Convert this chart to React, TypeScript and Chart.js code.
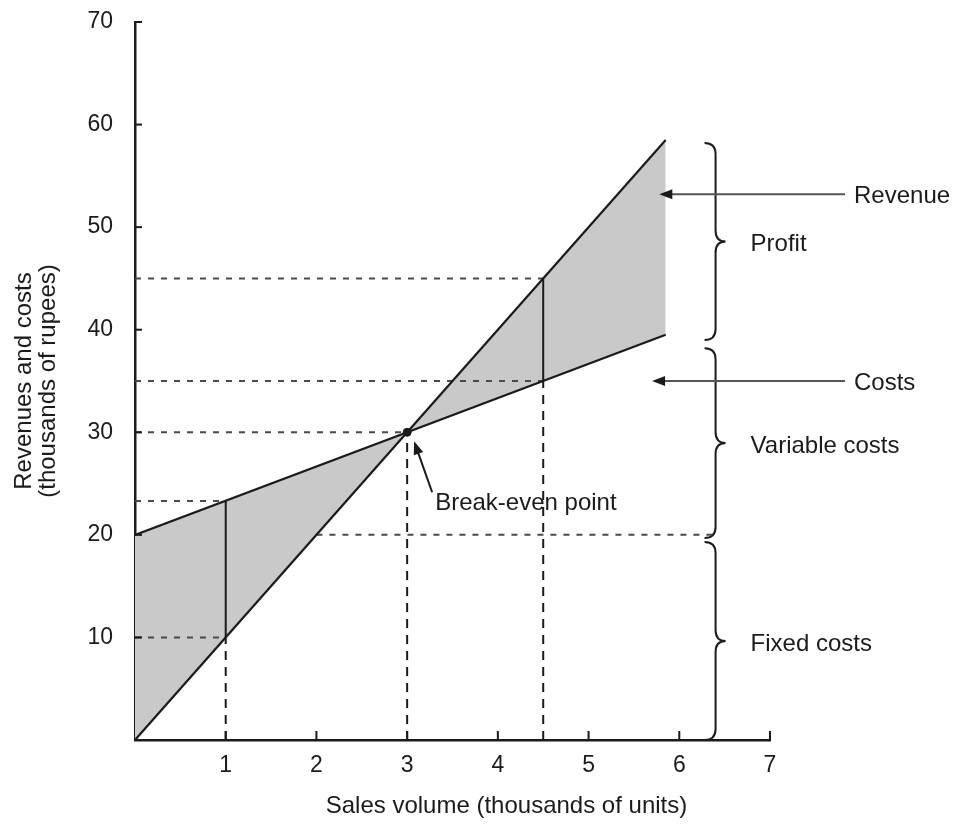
import React, { useEffect, useRef } from "react";
import { Chart, registerables } from "chart.js";

Chart.register(...registerables);

// ---- data ----
const salesVolume = [0, 5.85];
const revenue = [0, 58.5];
const costs = [20, 39.5];
const xTickValues = [1, 2, 3, 4, 5, 6, 7];
const yTickValues = [10, 20, 30, 40, 50, 60, 70];
const breakEven = [3, 30];

const guideLevels = [45, 35, 30, 23.3, 10, 20];
const guideFrom = [0, 0, 0, 0, 0, 2];
const guideTo = [4.5, 4.5, 3, 1, 1, 6.4];

const dropX = [1, 3, 4.5];
const dropTop = [10, 30, 35];

const markerX = [1, 4.5];
const markerLow = [10, 35];
const markerHigh = [23.3, 45];

const braceLabels = ["Profit", "Variable costs", "Fixed costs"];
const braceTop = [58.2, 38.2, 19.3];
const braceBottom = [39.0, 19.7, 0];
const braceAt = 6.4;

const pointerLabels = ["Revenue", "Costs"];
const pointerLevel = [53.2, 35];
const pointerTipX = [5.78, 5.7];

const breakEvenLabel = "Break-even point";
const xTitle = "Sales volume (thousands of units)";
const yTitle = ["Revenues and costs", "(thousands of rupees)"];

// ---- styles ----
const FONT = "'Liberation Sans', Arial, Helvetica, sans-serif";
const FS = 24;
const TICK_FS = 23;
const INK = "#1b1b1b";
const SHADE = "#c9c9c9";
const DASH = "#4a4a4a";

function drawArrow(ctx: CanvasRenderingContext2D, x0: number, y0: number, x1: number, y1: number, color: string) {
  const ang = Math.atan2(y1 - y0, x1 - x0);
  const len = 13;
  const half = 5;
  ctx.save();
  ctx.strokeStyle = color;
  ctx.fillStyle = INK;
  ctx.lineWidth = 2;
  ctx.beginPath();
  ctx.moveTo(x0, y0);
  ctx.lineTo(x1 - Math.cos(ang) * len * 0.8, y1 - Math.sin(ang) * len * 0.8);
  ctx.stroke();
  ctx.beginPath();
  ctx.moveTo(x1, y1);
  ctx.lineTo(x1 - Math.cos(ang) * len - Math.sin(ang) * half, y1 - Math.sin(ang) * len + Math.cos(ang) * half);
  ctx.lineTo(x1 - Math.cos(ang) * len + Math.sin(ang) * half, y1 - Math.sin(ang) * len - Math.cos(ang) * half);
  ctx.closePath();
  ctx.fill();
  ctx.restore();
}

function drawBrace(ctx: CanvasRenderingContext2D, x: number, yTop: number, yBottom: number) {
  const w = 11;
  const tip = 10;
  const mid = (yTop + yBottom) / 2;
  ctx.beginPath();
  ctx.moveTo(x - w, yTop);
  ctx.quadraticCurveTo(x, yTop, x, yTop + w);
  ctx.lineTo(x, mid - w);
  ctx.quadraticCurveTo(x, mid, x + tip, mid);
  ctx.quadraticCurveTo(x, mid, x, mid + w);
  ctx.lineTo(x, yBottom - w);
  ctx.quadraticCurveTo(x, yBottom, x - w, yBottom);
  ctx.stroke();
}

const annotations = {
  id: "breakEvenAnnotations",
  afterDraw(chart: any) {
    const ctx: CanvasRenderingContext2D = chart.ctx;
    const xs = chart.scales.x;
    const ys = chart.scales.y;
    const area = chart.chartArea;
    const px = (v: number) => xs.getPixelForValue(v);
    const py = (v: number) => ys.getPixelForValue(v);

    ctx.save();
    // inward tick marks
    ctx.strokeStyle = INK;
    ctx.lineWidth = 2;
    yTickValues.forEach((v) => {
      ctx.beginPath();
      ctx.moveTo(area.left, py(v));
      ctx.lineTo(area.left + 7, py(v));
      ctx.stroke();
    });
    xTickValues.forEach((v) => {
      ctx.beginPath();
      ctx.moveTo(px(v), area.bottom);
      ctx.lineTo(px(v), area.bottom - 9);
      ctx.stroke();
    });

    // braces + labels
    ctx.lineWidth = 2;
    ctx.strokeStyle = INK;
    ctx.fillStyle = INK;
    ctx.font = `${FS}px ${FONT}`;
    ctx.textBaseline = "middle";
    ctx.textAlign = "left";
    braceLabels.forEach((label, i) => {
      const yt = py(braceTop[i]);
      const yb = py(braceBottom[i]);
      const x = px(braceAt);
      drawBrace(ctx, x, yt, yb);
      ctx.fillText(label, x + 35, (yt + yb) / 2 + 3);
    });

    // pointer arrows
    pointerLabels.forEach((label, i) => {
      const y = py(pointerLevel[i]);
      drawArrow(ctx, 837, y, px(pointerTipX[i]), y, "#555");
      ctx.fillStyle = INK;
      ctx.fillText(label, 846, y + 2);
    });

    // break-even arrow
    const bx = px(breakEven[0]);
    const by = py(breakEven[1]);
    drawArrow(ctx, bx + 25, by + 60, bx + 7, by + 9, INK);
    ctx.fillStyle = INK;
    ctx.fillText(breakEvenLabel, bx + 28, by + 71);

    // x title
    ctx.textAlign = "center";
    ctx.fillText(xTitle, area.left + (area.right - area.left) * 0.585, area.bottom + 66);
    ctx.restore();
  },
};

export default function App() {
  const canvasRef = useRef<HTMLCanvasElement | null>(null);

  useEffect(() => {
    if (!canvasRef.current) return;
    const pts = (xv: number[], yv: number[]) => xv.map((x, i) => ({ x, y: yv[i] }));

    const datasets: any[] = [
      {
        label: "Revenue",
        data: pts(salesVolume, revenue),
        borderColor: INK,
        borderWidth: 2.2,
        pointRadius: 0,
        fill: { target: 1, above: SHADE, below: SHADE },
      },
      {
        label: "Costs",
        data: pts(salesVolume, costs),
        borderColor: INK,
        borderWidth: 2.2,
        pointRadius: 0,
        fill: false,
      },
      ...guideLevels.map((y, i) => ({
        label: "guide",
        data: [
          { x: guideFrom[i], y },
          { x: guideTo[i], y },
        ],
        borderColor: DASH,
        borderWidth: 2,
        borderDash: [6, 7],
        pointRadius: 0,
        fill: false,
      })),
      ...dropX.map((x, i) => ({
        label: "drop",
        data: [
          { x, y: 0 },
          { x, y: dropTop[i] },
        ],
        borderColor: INK,
        borderWidth: 2,
        borderDash: [9, 7],
        pointRadius: 0,
        fill: false,
      })),
      ...markerX.map((x, i) => ({
        label: "marker",
        data: [
          { x, y: markerLow[i] },
          { x, y: markerHigh[i] },
        ],
        borderColor: INK,
        borderWidth: 2,
        pointRadius: 0,
        fill: false,
      })),
      {
        label: "Break-even",
        data: [{ x: breakEven[0], y: breakEven[1] }],
        showLine: false,
        pointRadius: 4,
        pointBackgroundColor: INK,
        pointBorderColor: INK,
      },
    ];

    const chart = new Chart(canvasRef.current, {
      type: "line",
      data: { datasets },
      options: {
        animation: false,
        responsive: true,
        maintainAspectRatio: false,
        layout: { padding: { left: 0, right: 179, top: 14, bottom: 0 } },
        plugins: {
          legend: { display: false },
          tooltip: { enabled: false },
          filler: { drawTime: "beforeDatasetsDraw" },
        },
        scales: {
          x: {
            type: "linear",
            min: 0,
            max: 7,
            afterFit: (s: any) => {
              s.height = 82;
              s.paddingLeft = 0;
              s.paddingRight = 0;
            },
            afterBuildTicks: (s: any) => {
              s.ticks = [0, ...xTickValues].map((v) => ({ value: v }));
            },
            grid: { display: false, drawTicks: false },
            border: { display: true, color: INK, width: 2.5 },
            ticks: {
              padding: 12,
              color: INK,
              font: { family: FONT, size: TICK_FS },
              callback: (v: any) => (v === 0 ? "" : String(v)),
            },
          },
          y: {
            type: "linear",
            min: 0,
            max: 70,
            afterFit: (s: any) => {
              s.width = 127;
              s.paddingTop = 0;
              s.paddingBottom = 0;
            },
            afterBuildTicks: (s: any) => {
              s.ticks = [0, ...yTickValues].map((v) => ({ value: v }));
            },
            grid: { display: false, drawTicks: false },
            border: { display: true, color: INK, width: 2.5 },
            ticks: {
              padding: 22,
              color: INK,
              font: { family: FONT, size: TICK_FS },
              callback: (v: any) => (v === 0 ? "" : String(v)),
            },
            title: {
              display: true,
              text: yTitle,
              color: INK,
              font: { family: FONT, size: FS, lineHeight: 1.0 },
              padding: { top: 4, bottom: 0 },
            },
          },
        },
      } as any,
      plugins: [annotations],
    });
    return () => chart.destroy();
  }, []);

  return (
    <div style={{ position: "relative", width: 941, height: 814 }}>
      <canvas ref={canvasRef} />
    </div>
  );
}
